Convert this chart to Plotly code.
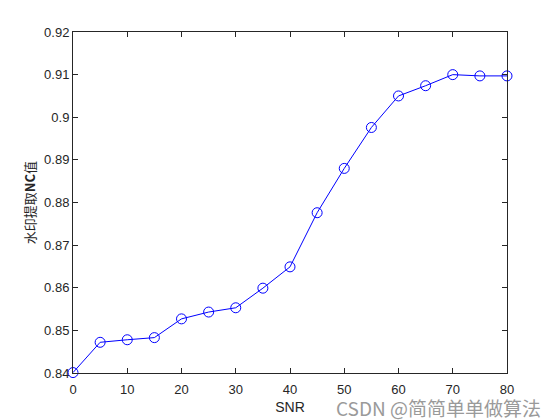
import plotly.graph_objects as go

snr = [0, 5, 10, 15, 20, 25, 30, 35, 40, 45, 50, 55, 60, 65, 70, 75, 80]
nc = [0.8401, 0.8472, 0.8478, 0.8483, 0.8527, 0.8543, 0.8553, 0.8599, 0.8649,
      0.8776, 0.8880, 0.8976, 0.9050, 0.9074, 0.9100, 0.9097, 0.9097]
x_ticks = [0, 10, 20, 30, 40, 50, 60, 70, 80]
y_ticks = [0.84, 0.85, 0.86, 0.87, 0.88, 0.89, 0.90, 0.91, 0.92]
y_tick_labels = ["0.84", "0.85", "0.86", "0.87", "0.88", "0.89", "0.9", "0.91", "0.92"]

font_family = "Liberation Sans, Arial, sans-serif"

fig = go.Figure()
fig.add_trace(go.Scatter(
    x=snr, y=nc, mode="lines+markers",
    line=dict(color="#0000FF", width=1),
    marker=dict(symbol="circle-open", size=10, color="#0000FF", line=dict(width=1)),
    cliponaxis=False, showlegend=False,
))

axis_common = dict(
    showgrid=False, zeroline=False, showline=True, linecolor="#262626", linewidth=1,
    mirror="ticks", ticks="inside", ticklen=5, tickcolor="#262626",
    tickfont=dict(family=font_family, size=13, color="#262626"),
    automargin=False,
)
fig.update_xaxes(range=[0, 80], tickvals=x_ticks, ticklabelstandoff=4,
                 title=dict(text="SNR", font=dict(family=font_family, size=14, color="#262626"), standoff=6),
                 **axis_common)
fig.update_yaxes(range=[0.84, 0.92], tickvals=y_ticks, ticktext=y_tick_labels,
                 title=dict(text="水印提取<b>NC</b>值", font=dict(family="Noto Sans CJK SC, " + font_family, size=13, color="#262626"), standoff=5),
                 **axis_common)

fig.add_annotation(
    text="CSDN @简简单单做算法", xref="paper", yref="paper", x=1.083, y=-0.055,
    xanchor="right", yanchor="top", showarrow=False,
    font=dict(family="Noto Sans CJK SC, sans-serif", size=19, color="#9a9a9a"),
)

# page body adds an 8px offset; compensate in size and margins
fig.update_layout(
    width=552, height=412,
    margin=dict(l=65, r=53, t=24, b=47),
    paper_bgcolor="white", plot_bgcolor="white",
)
fig.write_html("out.html")
